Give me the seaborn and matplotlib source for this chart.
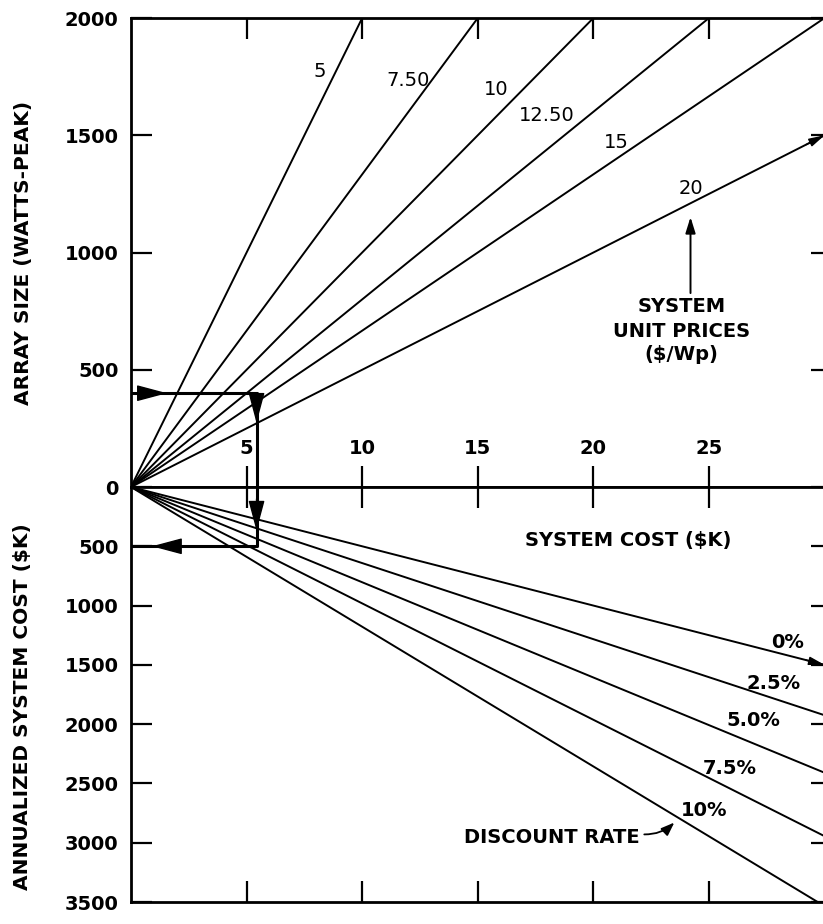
import numpy as np
import pandas as pd
import matplotlib.pyplot as plt
import seaborn as sns

# Chart values
price_labels = ['5', '7.50', '10', '12.50', '15', '20']      # system unit prices ($/Wp)
price_end_cost = [10, 15, 20, 25, 30, 30]                    # system cost ($K) at line end
price_end_watts = [2000, 2000, 2000, 2000, 2000, 1500]       # array size (Wp) at line end

rate_labels = ['0%', '2.5%', '5.0%', '7.5%', '10%']          # discount rates
rate_end_cost = [30, 30, 30, 30, 29.7]
rate_end_annual = [1500, 1925, 2410, 2945, 3500]

cost_ticks = [5, 10, 15, 20, 25]
watt_ticks = [0, 500, 1000, 1500, 2000]
annual_ticks = [500, 1000, 1500, 2000, 2500, 3000, 3500]

# worked example path
example_cost = 5.43
example_watts = 400
example_annual = 500

# long-form tables, every line starts at the origin
rows = []
for lab, c, w in zip(price_labels, price_end_cost, price_end_watts):
    rows.append((lab, 0, 0))
    rows.append((lab, c, w))
df_price = pd.DataFrame(rows, columns=['price', 'cost', 'watts'])

rows = []
for lab, c, a in zip(rate_labels, rate_end_cost, rate_end_annual):
    rows.append((lab, 0, 0))
    rows.append((lab, c, a))
df_rate = pd.DataFrame(rows, columns=['rate', 'cost', 'annual'])

sns.set_style('white')
plt.rcParams['font.family'] = ['DejaVu Sans']
plt.rcParams['text.color'] = 'black'
plt.rcParams['axes.labelcolor'] = 'black'
plt.rcParams['xtick.color'] = 'black'
plt.rcParams['ytick.color'] = 'black'

fig = plt.figure(figsize=(8.23, 9.24), dpi=100)
left = 131 / 823
width = (824.6 - 131) / 823
ax_top = fig.add_axes([left, 1 - 487 / 924, width, (487 - 18) / 924])
ax_bot = fig.add_axes([left, 1 - 902 / 924, width, (902 - 487) / 924])

# --- upper half: array size vs system cost ---
sns.lineplot(data=df_price, x='cost', y='watts', units='price', estimator=None,
             color='black', lw=1.4, legend=False, ax=ax_top)
ax_top.set_xlim(0, 30)
ax_top.set_ylim(0, 2000)

# --- lower half: annualized cost vs system cost ---
sns.lineplot(data=df_rate, x='cost', y='annual', units='rate', estimator=None,
             color='black', lw=1.4, legend=False, ax=ax_bot)
ax_bot.set_xlim(0, 30)
ax_bot.set_ylim(3500, 0)

for ax in (ax_top, ax_bot):
    for s in ax.spines.values():
        s.set_linewidth(2.0)
        s.set_color('black')
    ax.set_xlabel('')
    ax.set_xticks(cost_ticks)
    ax.tick_params(axis='both', direction='in', length=15, width=1.6,
                   top=True, bottom=True, left=True, right=True,
                   labelbottom=False, labeltop=False, labelright=False,
                   labelsize=14, pad=9, colors='black')

ax_top.set_yticks(watt_ticks)
ax_top.set_yticklabels([str(t) for t in watt_ticks], fontweight='bold')
ax_bot.set_yticks(annual_ticks)
ax_bot.set_yticklabels([str(t) for t in annual_ticks], fontweight='bold')

# shorter ticks on the right edge
for ax in (ax_top, ax_bot):
    for t in ax.yaxis.get_major_ticks():
        t.tick2line.set_markersize(10)

ax_top.set_ylabel('ARRAY SIZE (WATTS-PEAK)', fontsize=14.5, fontweight='bold')
ax_top.yaxis.set_label_coords(-0.142, 0.5)
ax_bot.set_ylabel('ANNUALIZED SYSTEM COST ($K)', fontsize=14.5, fontweight='bold')
ax_bot.yaxis.set_label_coords(-0.143, 0.47)

# cost labels sitting on the middle axis
for c in cost_ticks:
    ax_top.text(c, 166, str(c), ha='center', va='center',
                fontsize=14, fontweight='bold')
ax_bot.text(21.5, 455, 'SYSTEM COST ($K)', ha='center', va='center',
            fontsize=14, fontweight='bold')

# unit price labels
price_text_pos = {'5': (8.17, 1770), '7.50': (12.0, 1735), '10': (15.8, 1693),
                  '12.50': (18.0, 1586), '15': (21.0, 1471), '20': (24.2, 1275)}
for lab in price_labels:
    x, y = price_text_pos[lab]
    ax_top.text(x, y, lab, ha='center', va='center', fontsize=14)

ax_top.annotate('', xy=(24.2, 1151), xytext=(24.2, 827),
                arrowprops=dict(arrowstyle='-|>,head_length=0.8,head_width=0.25',
                                mutation_scale=12, color='black', lw=1.4,
                                shrinkA=0, shrinkB=0))
ax_top.text(23.8, 768, 'SYSTEM', ha='center', va='center', fontsize=14, fontweight='bold')
ax_top.text(23.8, 661, 'UNIT PRICES', ha='center', va='center', fontsize=14, fontweight='bold')
ax_top.text(23.8, 563, '($/Wp)', ha='center', va='center', fontsize=14, fontweight='bold')

# discount rate labels
rate_text_pos = {'0%': (28.4, 1315), '2.5%': (27.8, 1660), '5.0%': (26.9, 1970),
                 '7.5%': (25.9, 2375), '10%': (24.8, 2730)}
for lab in rate_labels:
    x, y = rate_text_pos[lab]
    ax_bot.text(x, y, lab, ha='center', va='center', fontsize=14, fontweight='bold')

ax_bot.text(22.0, 2955, 'DISCOUNT RATE', ha='right', va='center',
            fontsize=14, fontweight='bold')
ax_bot.annotate('', xy=(23.5, 2830), xytext=(22.2, 2930),
                arrowprops=dict(arrowstyle='-|>,head_length=0.8,head_width=0.3',
                                mutation_scale=10, color='black', lw=1.3,
                                connectionstyle='arc3,rad=0.2',
                                shrinkA=0, shrinkB=0))

# worked example: 400 Wp -> cost -> annualized cost
ax_top.plot([0, example_cost, example_cost], [example_watts, example_watts, 0],
            color='black', lw=2.2, clip_on=False, solid_capstyle='butt')
ax_bot.plot([example_cost, example_cost, 0], [0, example_annual, example_annual],
            color='black', lw=2.2, clip_on=False, solid_capstyle='butt')


def head(ax, tip, base, scale=16):
    ax.annotate('', xy=tip, xytext=base,
                arrowprops=dict(arrowstyle='-|>,head_length=1.2,head_width=0.32',
                                mutation_scale=scale, color='black', lw=1,
                                shrinkA=0, shrinkB=0), annotation_clip=False)


head(ax_top, (1.56, example_watts), (0.3, example_watts))
head(ax_top, (example_cost, 273), (example_cost, 390))
head(ax_bot, (example_cost, 370), (example_cost, 100))
head(ax_bot, (0.9, example_annual), (2.2, example_annual))
# small arrow tips where lines run off the frame
head(ax_top, (30, 1500), (29.2, 1460), scale=8)
head(ax_bot, (30, 1500), (29.2, 1460), scale=8)

fig.savefig('out.png', dpi=100)
